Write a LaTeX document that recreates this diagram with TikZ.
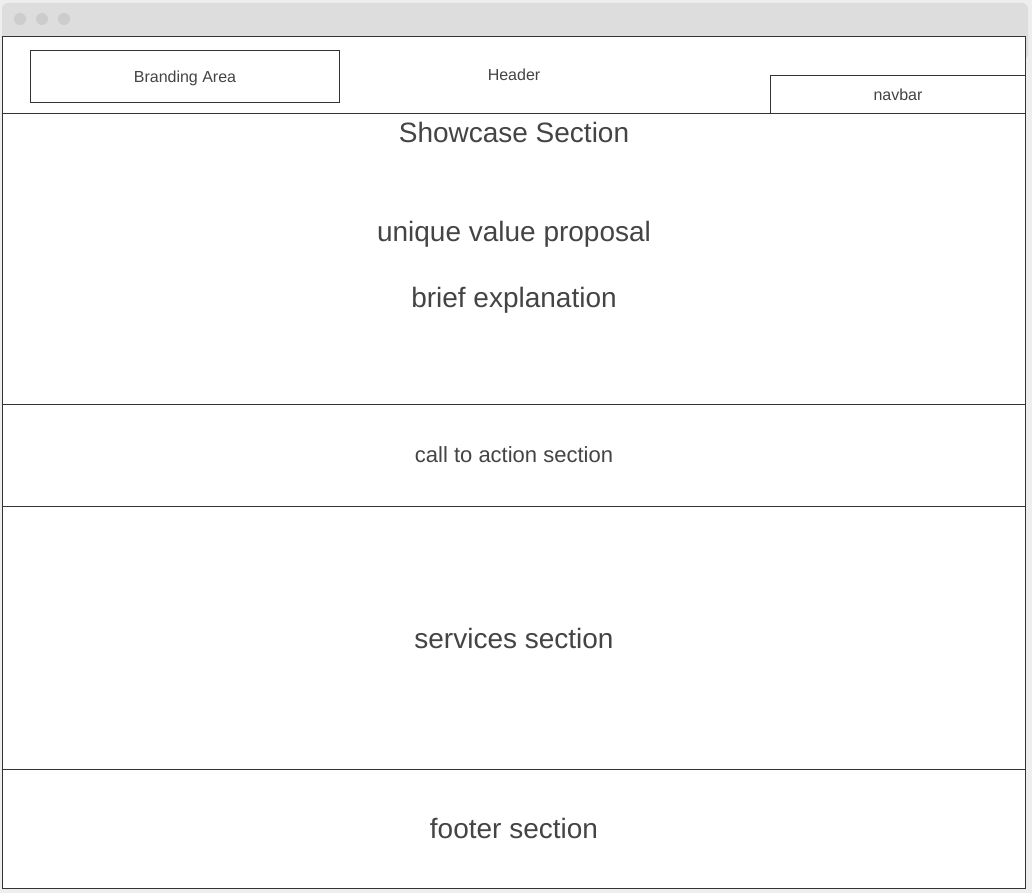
\documentclass[tikz,border=0pt]{standalone}
\usepackage{fontspec}
\setmainfont{Liberation Sans}
\definecolor{bgc}{HTML}{EEEEEE}
\definecolor{barc}{HTML}{DDDDDD}
\definecolor{dotc}{HTML}{CCCCCC}
\definecolor{linec}{HTML}{333333}
\definecolor{txtc}{HTML}{444444}
\tikzset{
  box/.style={draw=linec, line width=1pt, fill=white},
  small/.style={text=txtc, font=\fontsize{16}{19}\selectfont, inner sep=0pt},
  mid/.style={text=txtc, font=\fontsize{22}{26}\selectfont, inner sep=0pt},
  big/.style={text=txtc, font=\fontsize{28}{33}\selectfont, inner sep=0pt},
  dot/.style={fill=dotc, draw=none}
}
\begin{document}
\begin{tikzpicture}[x=1pt,y=-1pt]
\useasboundingbox (0,0) rectangle (1032,893);
\fill[bgc] (0,0) rectangle (1032,893);
% window frame
\fill[barc, rounded corners=6pt] (2,3) rectangle (1028,60);
\fill[barc] (2,30) rectangle (1028,40);
\foreach \x in {20,42,64} \fill[dot] (\x,19) circle (6);
% content area
\draw[box] (2.5,36.5) rectangle (1025.5,888.5);
% header
\draw[linec, line width=1pt] (2.5,113.5) -- (1025.5,113.5);
\draw[box] (30.5,50.5) rectangle (339.5,102.5);
\draw[box] (770.5,75.5) rectangle (1025.5,113.5);
\node[small] (brand) at (185,78) {Branding Area};
\node[small] (header) at (514,75) {Header};
\node[small] (navbar) at (898,95) {navbar};
% showcase
\draw[linec, line width=1pt] (2.5,404.5) -- (1025.5,404.5);
\node[big] (showcase) at (514,132) {Showcase Section};
\node[big] (uvp) at (514,234) {unique value proposal};
\node[big] (brief) at (514,300) {brief explanation};
% call to action
\draw[linec, line width=1pt] (2.5,506.5) -- (1025.5,506.5);
\node[mid] (cta) at (514,455) {call to action section};
% services
\draw[linec, line width=1pt] (2.5,769.5) -- (1025.5,769.5);
\node[big] (services) at (514,638) {services section};
% footer
\node[big] (footer) at (514,828) {footer section};
\end{tikzpicture}
\end{document}
